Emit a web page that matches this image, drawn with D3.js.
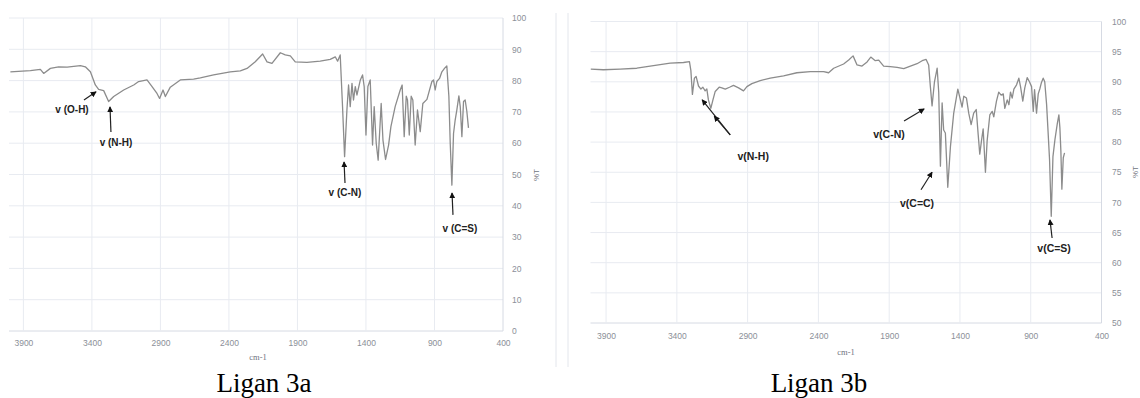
<!DOCTYPE html>
<html><head><meta charset="utf-8">
<script src="https://cdn.jsdelivr.net/npm/d3@7"></script>
<style>html,body{margin:0;padding:0;background:#fff;}svg{display:block;}</style>
</head><body>
<svg id="c" width="1140" height="398"></svg>
<script>
// ---- Data ----
const xTicks = [3900, 3400, 2900, 2400, 1900, 1400, 900, 400];
const leftYTicks = [0,10,20,30,40,50,60,70,80,90,100];
const rightYTicks = [50,55,60,65,70,75,80,85,90,95,100];

const leftWave = [3995,3849,3776,3752,3703,3643,3581,3484,3448,3411,3375,3351,3314,3278,3241,3168,3095,3059,2998,2961,2925,2906,2881,2864,2828,2755,2658,2609,2512,2390,2317,2268,2208,2154,2122,2086,2025,1989,1952,1916,1831,1734,1661,1624,1607,1588,1571,1556,1539,1527,1515,1502,1491,1478,1466,1441,1425,1413,1400,1386,1369,1352,1340,1325,1311,1289,1276,1257,1235,1218,1187,1150,1136,1121,1106,1097,1084,1070,1058,1041,1024,1004,985,955,919,907,895,883,863,846,827,810,795,785,773,761,749,737,722,712,700,688,676,664,652];
const leftT = [82.8,83.2,83.6,82.3,83.9,84.4,84.3,84.8,84.4,82.8,78.6,77.2,76.8,73.3,74.9,77.0,78.6,79.7,80.2,78.1,75.9,74.3,77.0,74.9,77.9,80.2,80.5,80.9,81.8,82.8,83.1,83.9,86.0,88.5,86.0,85.5,88.9,88.2,87.9,86.0,85.8,86.2,86.8,87.6,86.2,88.2,71.7,55.7,70.6,78.6,71.7,79.1,73.8,78.1,75.4,80.2,81.8,78.1,62.6,78.1,80.2,59.4,71.7,59.9,54.6,72.7,61.0,54.8,59.4,65.3,71.7,77.0,78.6,62.1,75.0,73.8,62.6,75.0,73.8,59.4,70.6,63.7,72.7,74.0,79.7,80.2,77.0,79.7,80.7,82.8,83.9,84.7,75.0,59.9,46.6,63.1,67.4,70.6,75.1,71.7,62.1,73.3,73.8,70.2,64.9];

const rightWave = [4008,3919,3801,3683,3565,3447,3353,3311,3301,3290,3276,3264,3247,3230,3216,3200,3188,3177,3160,3145,3129,3101,3082,3058,3028,3000,2964,2929,2905,2870,2811,2740,2646,2552,2457,2363,2328,2292,2222,2186,2155,2127,2092,2056,2030,1998,1974,1939,1892,1844,1797,1750,1703,1667,1639,1621,1609,1597,1580,1561,1550,1538,1526,1515,1503,1486,1467,1444,1415,1397,1385,1373,1354,1338,1321,1303,1285,1271,1260,1248,1236,1220,1208,1189,1172,1161,1142,1126,1109,1094,1083,1066,1054,1043,1031,1019,1000,984,972,956,942,925,909,894,882,873,859,847,836,824,812,801,788,779,767,755,743,729,712,701,694,687,680,670,661];
const rightT = [92.1,92.0,92.1,92.25,92.7,93.1,93.2,93.35,91.9,87.9,90.6,90.9,89.3,88.8,89.1,88.5,88.8,87.0,85.6,87.0,88.4,89.1,89.0,88.8,89.1,89.4,89.0,88.5,89.2,89.7,90.2,90.6,91.0,91.5,91.7,91.7,91.5,92.25,92.95,93.6,94.3,92.8,92.6,93.3,94.1,93.5,93.6,92.6,92.5,92.4,92.2,92.6,93.0,93.5,93.7,92.8,89.2,86.0,90.0,92.25,88.3,76.0,86.5,82.0,81.5,72.5,79.3,84.8,88.8,87.0,85.8,87.6,87.3,84.8,82.9,84.8,85.4,81.2,78.0,80.2,82.2,75.0,80.2,84.5,85.1,84.2,86.8,88.3,87.8,88.0,85.6,87.0,86.2,88.3,87.3,88.8,89.5,90.6,89.2,86.8,89.0,90.7,90.0,89.2,85.1,88.7,84.8,88.0,88.8,89.9,90.6,90.0,86.3,82.4,77.1,67.7,77.6,80.4,83.1,84.5,82.4,78.5,72.2,77.4,78.2];

// annotations: label text, label position (wavenumber, %T), arrow from -> to (wavenumber, %T)
const leftLabels = ["v (O-H)", "v (N-H)", "v (C-N)", "v (C=S)"];
const leftLabelPos = [[3545,70.6],[3224,60.1],[1553,44.1],[714,32.6]];
const leftArrows = [[[3458,73.8],[3370,76.4]],[[3261,63.6],[3268,71.6]],[[1553,47.3],[1560,54.0]],[[765,37.1],[772,44.1]]];

const rightLabels = ["v(N-H)", "v(C-N)", "v(C=C)", "v(C=S)"];
const rightLabelPos = [[2861,77.5],[1901,81.2],[1703,69.7],[735,62.3]];
const rightArrows = [[[3023,81.2],[3221,87.0]],[[3023,81.2],[3136,84.3]],[[1795,83.5],[1653,85.5]],[[1675,72.1],[1597,75.0]],[[749,64.1],[764,67.1]]];

const captions = ["Ligan 3a", "Ligan 3b"];
const xTitle = "cm-1";
const yTitle = "%T";

// ---- Drawing ----
const svg = d3.select("#c");
const defs = svg.append("defs");
defs.append("marker").attr("id","ah").attr("viewBox","0 0 8 8")
  .attr("refX",7).attr("refY",4).attr("markerWidth",6).attr("markerHeight",6)
  .attr("markerUnits","userSpaceOnUse").attr("orient","auto")
  .append("path").attr("d","M0,0 L8,4 L0,8 z").attr("fill","#111");

// frame lines between the two chart boxes
svg.append("line").attr("x1",556).attr("x2",556).attr("y1",13).attr("y2",367).attr("stroke","#e3e6ec");
svg.append("line").attr("x1",568).attr("x2",568).attr("y1",13).attr("y2",367).attr("stroke","#e3e6ec");

function panel(cfg){
  const x = d3.scaleLinear().domain(cfg.xDomain).range(cfg.xRange);
  const y = d3.scaleLinear().domain(cfg.yDomain).range(cfg.yRange);
  const g = svg.append("g");
  const [x0,x1] = cfg.xRange, [y0,y1] = cfg.yRange;
  // gridlines
  g.append("g").selectAll("line").data(cfg.yTicks).join("line")
    .attr("x1",x0).attr("x2",x1).attr("y1",d=>y(d)).attr("y2",d=>y(d))
    .attr("stroke",(d,i)=> i===0 ? "#d6dae3" : "#e8ebf1").attr("stroke-width",1);
  g.append("g").selectAll("line").data(xTicks).join("line")
    .attr("x1",d=>x(d)).attr("x2",d=>x(d)).attr("y1",y0).attr("y2",y1)
    .attr("stroke",(d,i)=> d===400 ? "#d6dae3" : "#e8ebf1").attr("stroke-width",1);

  // axes (labels only)
  const xa = g.append("g").attr("transform",`translate(0,${cfg.xLabelY})`)
    .call(d3.axisBottom(x).tickValues(xTicks).tickSize(0).tickPadding(0).tickFormat(d3.format("d")));
  xa.select(".domain").remove();
  xa.selectAll("text").attr("dy","0.32em").attr("fill","#8b8f98")
    .style("font-family","Liberation Sans, Arial, sans-serif").style("font-size","8.5px");
  const ya = g.append("g").attr("transform",`translate(${cfg.yLabelX},0)`)
    .call(d3.axisRight(y).tickValues(cfg.yTicks).tickSize(0).tickPadding(0));
  ya.select(".domain").remove();
  ya.selectAll("text").attr("fill","#8b8f98")
    .style("font-family","Liberation Sans, Arial, sans-serif").style("font-size","8.5px");

  // titles
  g.append("text").attr("x",cfg.xTitlePos[0]).attr("y",cfg.xTitlePos[1]).attr("text-anchor","middle")
    .attr("dominant-baseline","middle").attr("fill","#6f7480")
    .style("font-family","Liberation Serif, serif").style("font-size","8.5px").text(xTitle);
  g.append("text").attr("transform",`translate(${cfg.yTitlePos[0]},${cfg.yTitlePos[1]}) rotate(-90)`)
    .attr("text-anchor","middle").attr("dominant-baseline","middle").attr("fill","#6f7480")
    .style("font-family","Liberation Sans, sans-serif").style("font-size","8px").text(yTitle);

  // spectrum line
  const pts = cfg.wave.map((w,i)=>[w,cfg.T[i]]);
  g.append("path").datum(pts)
    .attr("d", d3.line().x(d=>x(Math.min(d[0], cfg.xDomain[0]))).y(d=>y(d[1])))
    .attr("fill","none").attr("stroke","#8c8c8c").attr("stroke-width",1.3).attr("stroke-linejoin","round");

  // annotations
  g.append("g").selectAll("line").data(cfg.arrows).join("line")
    .attr("x1",d=>x(d[0][0])).attr("y1",d=>y(d[0][1])).attr("x2",d=>x(d[1][0])).attr("y2",d=>y(d[1][1]))
    .attr("stroke","#222").attr("stroke-width",1.2).attr("marker-end","url(#ah)");
  g.append("g").selectAll("text").data(cfg.labels).join("text")
    .attr("x",(d,i)=>x(cfg.labelPos[i][0])).attr("y",(d,i)=>y(cfg.labelPos[i][1]))
    .attr("text-anchor","middle").attr("dominant-baseline","middle").attr("fill","#222")
    .style("font-family","Liberation Sans, Arial, sans-serif").style("font-weight","bold")
    .style("font-size",cfg.labelSize).text(d=>d);

  // caption
  svg.append("text").attr("x",cfg.captionX).attr("y",392).attr("text-anchor","middle")
    .style("font-family","Liberation Serif, 'Times New Roman', serif").style("font-size","27px")
    .attr("fill","#000").text(cfg.caption);
}

panel({
  xDomain:[4005,400], xRange:[9,503], yDomain:[0,100], yRange:[331,18], yTicks:leftYTicks,
  xLabelY:343, yLabelX:512, xTitlePos:[258,358], yTitlePos:[537,175],
  wave:leftWave, T:leftT, labels:leftLabels, labelPos:leftLabelPos, arrows:leftArrows,
  labelSize:"10px", caption:captions[0], captionX:264
});
panel({
  xDomain:[4010,400], xRange:[590.5,1101.5], yDomain:[50,100], yRange:[323,21.5], yTicks:rightYTicks,
  xLabelY:336, yLabelX:1112, xTitlePos:[846,353], yTitlePos:[1136,172],
  wave:rightWave, T:rightT, labels:rightLabels, labelPos:rightLabelPos, arrows:rightArrows,
  labelSize:"10.5px", caption:captions[1], captionX:819
});
</script>
</body></html>
